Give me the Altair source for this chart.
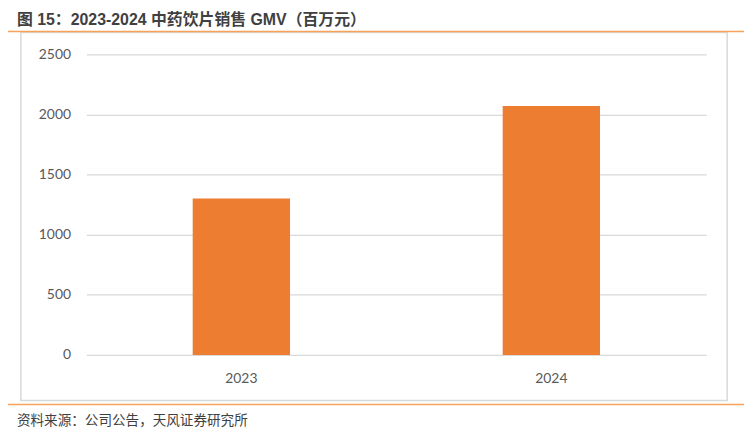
import altair as alt
import pandas as pd

years = ["2023", "2024"]
gmv = [1300, 2070]
y_ticks = [0, 500, 1000, 1500, 2000, 2500]
title_text = "图 15：2023-2024 中药饮片销售 GMV（百万元）"
source_text = "资料来源：公司公告，天风证券研究所"

df = pd.DataFrame({"year": years, "gmv": gmv})
one = pd.DataFrame({"k": [0]})

W, H = 625, 303
LBL = "#595959"
GRID = "#d9d9d9"
ORANGE_LINE = "#F7A15A"
BAR = "#ED7D31"

box = alt.Chart(one).mark_rect(fill=None, stroke=GRID, strokeWidth=1.5).encode(
    x=alt.value(-66), x2=alt.value(646), y=alt.value(-22), y2=alt.value(349)
)

top_line = alt.Chart(one).mark_rule(color=ORANGE_LINE, strokeWidth=1.6).encode(
    x=alt.value(-82), x2=alt.value(663), y=alt.value(-23)
)
bottom_line = alt.Chart(one).mark_rule(color=ORANGE_LINE, strokeWidth=1.6).encode(
    x=alt.value(-82), x2=alt.value(663), y=alt.value(353)
)

title = alt.Chart(pd.DataFrame({"t": [title_text]})).mark_text(
    align="left", baseline="top", font="Liberation Sans, Noto Sans CJK SC",
    fontSize=16, fontWeight="bold", color="#404040"
).encode(text="t:N", x=alt.value(-70), y=alt.value(-43))

source = alt.Chart(pd.DataFrame({"t": [source_text]})).mark_text(
    align="left", baseline="middle", font="Noto Sans CJK SC", fontSize=13.7,
    color="#404040"
).encode(text="t:N", x=alt.value(-70), y=alt.value(370))

bars = alt.Chart(df).mark_bar(color=BAR, width=alt.RelativeBandSize(0.314)).encode(
    x=alt.X("year:N", title=None, sort=years,
            scale=alt.Scale(paddingInner=0, paddingOuter=0),
            axis=alt.Axis(labelAngle=0, domain=False, ticks=False, grid=False,
                          labelFontSize=14, labelColor=LBL, labelFont="Lato",
                          labelPadding=17)),
    y=alt.Y("gmv:Q", title=None,
            scale=alt.Scale(domain=[0, 2500], nice=False),
            axis=alt.Axis(values=y_ticks, format="d", domain=False, ticks=False,
                          grid=True, gridColor=GRID, gridWidth=1.2,
                          labelFontSize=14, labelColor=LBL, labelFont="Lato",
                          labelPadding=16)),
)

chart = alt.layer(box, top_line, bottom_line, title, source, bars).properties(
    width=W, height=H,
    padding={"left": 79, "top": 45, "right": 41, "bottom": 77},
    autosize=alt.AutoSizeParams(type="none"),
).configure_view(stroke=None)

chart.save("out.html", embed_options={"renderer": "svg", "actions": False})
